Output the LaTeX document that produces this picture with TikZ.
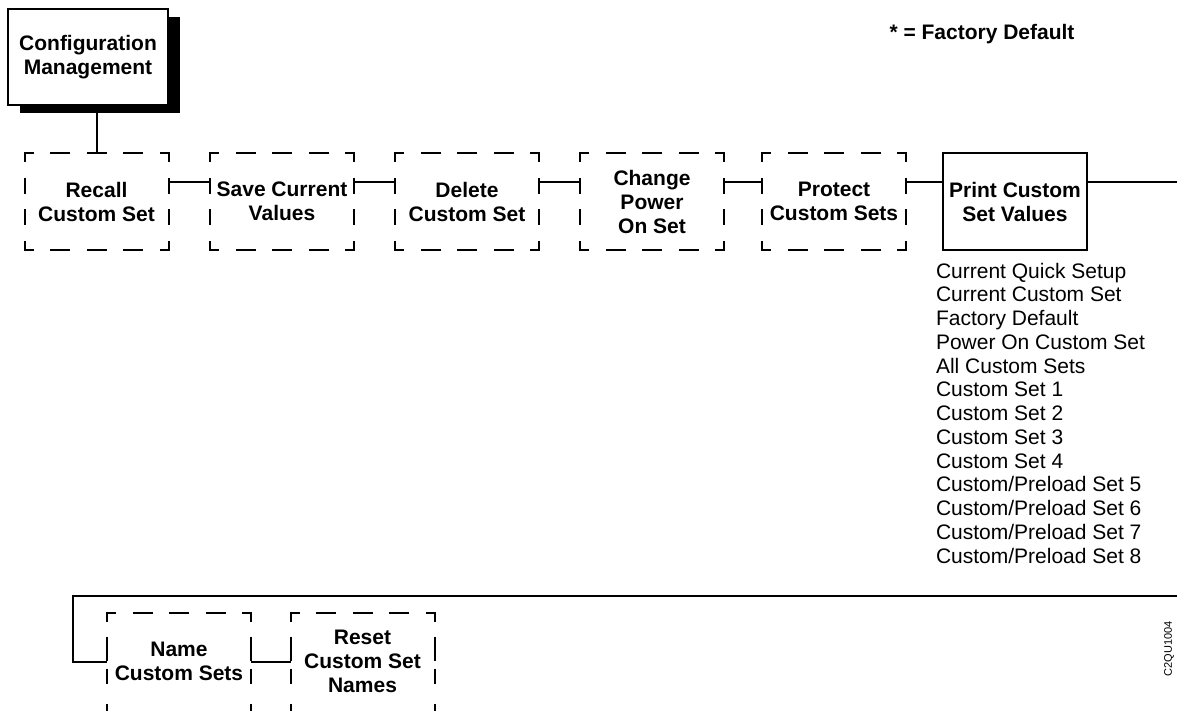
\documentclass[tikz,border=0pt]{standalone}
\usepackage{fontspec}
\setmainfont{Liberation Sans}
\begin{document}
\begin{tikzpicture}[x=1pt,y=-1pt, line width=2pt,
  lbl/.style={font=\bfseries\fontsize{21}{24}\selectfont, align=center},
  dbox/.style={lbl, minimum width=144pt, minimum height=97pt, inner sep=0pt, outer sep=0pt},
  sbox/.style={dbox, draw},
  hside/.style={line cap=rect, dash pattern=on 18pt off 18.5pt, dash phase=10pt},
  vside/.style={line cap=rect, dash pattern=on 14pt off 17.667pt, dash phase=6pt},
  lvside/.style={line cap=rect, dash pattern=on 8pt off 17pt on 22pt off 10pt on 13pt off 22pt on 40pt},
  item/.style={font=\fontsize{21}{24}\selectfont, anchor=base west, inner sep=0pt}
]
\useasboundingbox (0,0) rectangle (1177,711);
\clip (0,0) rectangle (1177,711);

% Configuration Management box with shadow
\fill (20,17) rectangle (180,113);
\node[draw, fill=white, lbl, minimum width=160pt, minimum height=96pt, inner sep=0pt, outer sep=0pt] (config) at (88,57) {Configuration\\Management};

\node[font=\bfseries\fontsize{21}{24}\selectfont, anchor=base, inner sep=0pt] (fd) at (982,40) {* = Factory Default};

% top row
\node[dbox] (recall) at (96.5,201.5) {Recall\\Custom Set};
\node[dbox] (save) at (282,201.5) {Save Current\\Values};
\node[dbox] (delete) at (467,201.5) {Delete\\Custom Set};
\node[dbox] (change) at (652,201.5) {Change\\Power\\On Set};
\node[dbox] (protect) at (834,201.5) {Protect\\Custom Sets};
\node[sbox] (print) at (1015,201.5) {Print Custom\\Set Values};

\foreach \n in {recall,save,delete,change,protect}{
  \draw[hside] (\n.north west) -- (\n.north east);
  \draw[hside] (\n.south west) -- (\n.south east);
  \draw[vside] (\n.north west) -- (\n.south west);
  \draw[vside] (\n.north east) -- (\n.south east);
}

\draw (config.south -| recall.north) -- (recall.north);
\foreach \a/\b in {recall/save, save/delete, delete/change, change/protect, protect/print}
  \draw ([yshift=19.5pt]\a.east) -- ([yshift=19.5pt]\b.west);
\coordinate (r1) at (1177,182);
\draw ([yshift=19.5pt]print.east) -- (r1);

% list
\foreach \t [count=\i from 0] in {Current Quick Setup, Current Custom Set, Factory Default, Power On Custom Set, All Custom Sets, Custom Set 1, Custom Set 2, Custom Set 3, Custom Set 4, Custom/Preload Set 5, Custom/Preload Set 6, Custom/Preload Set 7, Custom/Preload Set 8}
  \node[item] (v\i) at (935, 278+23.75*\i) {\t};

% bottom row
\node[dbox] (name) at (179,661.5) {Name\\Custom Sets};
\node[dbox] (reset) at (362.5,661.5) {Reset\\Custom Set\\Names};
\foreach \n in {name,reset}{
  \draw[hside] (\n.north west) -- (\n.north east);
  \draw[lvside] (\n.north west) -- ([yshift=-40pt]\n.south west);
  \draw[lvside] (\n.north east) -- ([yshift=-40pt]\n.south east);
}
\coordinate (r2) at (1177,596);
\coordinate (l2) at (73,596);
\draw (r2) -- (l2) |- (name.west);
\draw (name.east) -- (reset.west);

\node[rotate=90, font=\fontsize{11}{13}\selectfont, inner sep=0pt] (id) at (1169,649) {C2QU1004};
\end{tikzpicture}
\end{document}
